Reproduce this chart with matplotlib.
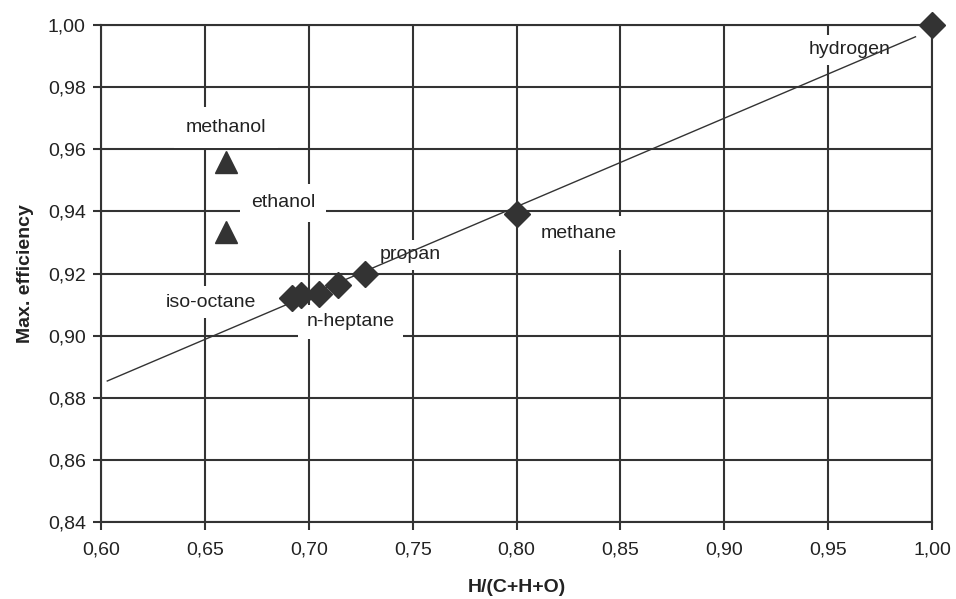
import matplotlib.pyplot as plt
import matplotlib.ticker as mticker

plt.rcParams['font.family'] = ['Liberation Sans', 'DejaVu Sans']

# diamonds: hydrocarbons + hydrogen
hc_x = [0.692, 0.696, 0.705, 0.714, 0.727, 0.800, 1.000]
hc_y = [0.9120, 0.9130, 0.9135, 0.9162, 0.9200, 0.9392, 1.0000]

# triangles: alcohols
alc_x = [0.660, 0.660]
alc_y = [0.9559, 0.9334]

# trend line
trend_x = [0.603, 0.992]
trend_y = [0.8854, 0.9962]

# labels
names = ['methanol', 'ethanol', 'propan', 'iso-octane', 'n-heptane', 'methane', 'hydrogen']
name_x = [0.660, 0.6875, 0.749, 0.653, 0.720, 0.830, 0.9605]
name_y = [0.967, 0.9427, 0.926, 0.9108, 0.9044, 0.933, 0.992]
name_pad = [0.6, 0.55, 0.35, 0.4, 0.45, 0.45, 0.35]

xticks = [0.60, 0.65, 0.70, 0.75, 0.80, 0.85, 0.90, 0.95, 1.00]
yticks = [0.84, 0.86, 0.88, 0.90, 0.92, 0.94, 0.96, 0.98, 1.00]

ink = '#333333'

fig = plt.figure(figsize=(9.56, 5.99), dpi=100)
ax = fig.add_axes([0.1057, 0.1285, 0.8693, 0.8298])
ax.set_axisbelow(True)

ax.set_xlim(0.60, 1.00)
ax.set_ylim(0.84, 1.00)
ax.set_xticks(xticks)
ax.set_yticks(yticks)
fmt = mticker.FuncFormatter(lambda v, p: f'{v:.2f}'.replace('.', ','))
ax.xaxis.set_major_formatter(fmt)
ax.yaxis.set_major_formatter(fmt)
ax.grid(True, color=ink, linewidth=1.5)
ax.tick_params(direction='out', length=6, width=1.5, color=ink,
               labelsize=14, labelcolor='#222222', pad=5)
ax.tick_params(axis='x', pad=8)
for s in ax.spines.values():
    s.set_color(ink)
    s.set_linewidth(1.5)

for t, x, y, p in zip(names, name_x, name_y, name_pad):
    ax.text(x, y, t, ha='center', va='center', fontsize=14, color='#222222', zorder=1,
            bbox=dict(boxstyle=f'square,pad={p}', fc='white', ec='none'))

ax.plot(trend_x, trend_y, color=ink, linewidth=1, zorder=2)
ax.plot(hc_x, hc_y, linestyle='none', marker='D', markersize=13,
        color=ink, markeredgecolor=ink, zorder=3, clip_on=False)
ax.plot(alc_x, alc_y, linestyle='none', marker='^', markersize=16,
        color=ink, markeredgecolor=ink, zorder=3)

ax.set_xlabel('H/(C+H+O)', fontsize=14, fontweight='bold', color='#222222', labelpad=15)
ax.set_ylabel('Max. efficiency', fontsize=14, fontweight='bold', color='#222222', labelpad=10)

fig.savefig('out.png', dpi=100)
